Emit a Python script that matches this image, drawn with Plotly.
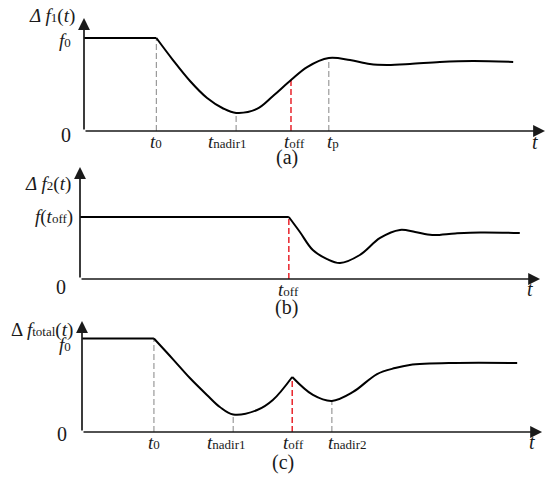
import numpy as np
import plotly.graph_objects as go

W, H = 550, 477

# ---------------- data (schematic, arbitrary units) ----------------
# Panel (a): Δf1(t)
t_a = [0.00, 1.57, 1.93, 2.30, 2.67, 3.02, 3.30, 3.75, 4.10, 4.49, 4.84,
       5.31, 5.77, 6.20, 6.57, 7.07, 7.72, 8.44, 9.31]
f_a = [1.00, 1.00, 0.763, 0.538, 0.355, 0.242, 0.194, 0.237, 0.376, 0.548,
       0.688, 0.785, 0.763, 0.72, 0.71, 0.72, 0.742, 0.753, 0.742]
kinks_a = [1]
marks_a = {"t0": 1.57, "tnadir1": 3.30, "toff": 4.49, "tp": 5.31}

# Panel (b): Δf2(t)
t_b = [0.00, 4.53, 4.77, 5.05, 5.36, 5.64, 6.07, 6.51, 6.94, 7.27, 7.64,
       8.14, 8.68, 9.54]
f_b = [0.55, 0.55, 0.417, 0.257, 0.177, 0.142, 0.213, 0.364, 0.435, 0.417,
       0.39, 0.404, 0.413, 0.408]
kinks_b = [1]
marks_b = {"toff": 4.53}

# Panel (c): Δftotal(t)
t_c = [0.00, 1.56, 1.97, 2.34, 2.71, 2.99, 3.28, 3.80, 4.14, 4.56, 5.01, 5.42,
       5.88, 6.40, 6.79, 7.11, 8.05, 9.44]
f_c = [1.00, 1.00, 0.78, 0.577, 0.396, 0.267, 0.187, 0.235, 0.342, 0.588, 0.396,
       0.332, 0.428, 0.62, 0.684, 0.717, 0.738, 0.738]
kinks_c = [1, 9]
marks_c = {"t0": 1.56, "tnadir1": 3.28, "toff": 4.56, "tnadir2": 5.42}

# ---------------- layout geometry (pixels) ----------------
S = 46.1  # px per time unit
panels = [
    dict(sx="", x0=84, y0=131, k=93.0, ytop=1.215, tend=10.0,
         t=t_a, f=f_a, kinks=kinks_a, marks=marks_a),
    dict(sx="2", x0=80, y0=279, k=112.7, ytop=0.994, tend=9.98,
         t=t_b, f=f_b, kinks=kinks_b, marks=marks_b),
    dict(sx="3", x0=82, y0=432, k=93.5, ytop=1.187, tend=9.98,
         t=t_c, f=f_c, kinks=kinks_c, marks=marks_c),
]

FONT = "Liberation Serif"
INK = "#1a1a1a"


def sub(s, size=13):
    return f'<span style="font-size:{size}px;font-style:normal">{s}</span>'


def tlabel(name):
    subs = {"t0": "0", "tnadir1": "nadir1", "tnadir2": "nadir2",
            "toff": "off", "tp": "p"}
    return "<i>t</i>" + sub(subs[name])


fig = go.Figure()
annotations = []
layout_axes = {}

label_dx = [
    {"t0": 0, "tnadir1": -9, "toff": 4, "tp": 4},
    {"toff": 0},
    {"t0": 0, "tnadir1": -7, "toff": 1, "tnadir2": 16},
]

for i, p in enumerate(panels):
    xa, ya = "x" + p["sx"], "y" + p["sx"]
    xr = [-p["x0"] / S, (W - p["x0"]) / S]
    yr = [(p["y0"] - H) / p["k"], p["y0"] / p["k"]]
    layout_axes["xaxis" + p["sx"]] = dict(domain=[0, 1], range=xr, visible=False,
                                          anchor=ya, fixedrange=True)
    layout_axes["yaxis" + p["sx"]] = dict(domain=[0, 1], range=yr, visible=False,
                                          anchor=xa, fixedrange=True)

    t = np.array(p["t"])
    f = np.array(p["f"])

    for name, tm in p["marks"].items():
        fm = float(np.interp(tm, t, f))
        red = name == "toff"
        fig.add_trace(go.Scatter(
            x=[tm, tm], y=[0, fm], mode="lines", xaxis=xa, yaxis=ya,
            line=dict(color="#e8242c" if red else "#9a9a9a",
                      width=1.5 if red else 1.2, dash="6px,3px"),
            hoverinfo="skip"))
        annotations.append(dict(
            x=tm, y=0, xref=xa, yref=ya, text=tlabel(name), showarrow=False,
            xanchor="center", yanchor="middle",
            xshift=label_dx[i][name], yshift=-10,
            font=dict(family=FONT, size=19, color=INK)))

    cuts = [0] + p["kinks"] + [len(t) - 1]
    for a, b in zip(cuts[:-1], cuts[1:]):
        seg_t, seg_f = t[a:b + 1], f[a:b + 1]
        flat = np.allclose(seg_f, seg_f[0])
        fig.add_trace(go.Scatter(
            x=seg_t, y=seg_f, mode="lines", xaxis=xa, yaxis=ya,
            line=dict(color="black", width=2,
                      shape="linear" if flat else "spline", smoothing=1.0),
            hoverinfo="skip"))

    for (x, y) in [(0, p["ytop"]), (p["tend"], 0)]:
        annotations.append(dict(
            x=x, y=y, ax=0, ay=0, xref=xa, yref=ya, axref=xa, ayref=ya,
            text="", showarrow=True, arrowhead=2, arrowsize=1.4,
            arrowwidth=1.7, arrowcolor=INK))


def px_note(text, x, y, xanchor="center", size=19):
    annotations.append(dict(
        x=x / W, y=1 - y / H, xref="paper", yref="paper", text=text,
        showarrow=False, xanchor=xanchor, yanchor="middle",
        font=dict(family=FONT, size=size, color=INK)))


px_note("<i>Δ f</i>" + sub("1") + "(<i>t</i>)", 77, 16, "right")
px_note("<i>Δ f</i>" + sub("2") + "(<i>t</i>)", 73, 184, "right")
px_note("Δ <i>f</i>" + sub("total") + "(<i>t</i>)", 75, 330, "right")

px_note("<i>f</i>" + sub("0"), 73, 40, "right")
px_note("0", 73, 135, "right", 20)
px_note("<i>f</i>(<i>t</i>" + sub("off") + ")", 75, 217, "right")
px_note("0", 68, 287, "right", 20)
px_note("<i>f</i>" + sub("0"), 73, 344, "right")
px_note("0", 69, 434, "right", 20)

px_note("<i>t</i>", 535, 142, size=20)
px_note("<i>t</i>", 530, 289, size=20)
px_note("<i>t</i>", 532, 442, size=20)

px_note("(a)", 287, 157, size=20)
px_note("(b)", 286, 307, size=20)
px_note("(c)", 283, 462, size=20)

fig.update_layout(
    width=W, height=H, margin=dict(l=0, r=0, t=0, b=0),
    paper_bgcolor="white", plot_bgcolor="rgba(0,0,0,0)", showlegend=False,
    annotations=annotations, **layout_axes)

fig.write_html(
    "out.html",
    config={"displayModeBar": False},
    post_script="document.body.style.margin='0';document.body.style.overflow='hidden';")
